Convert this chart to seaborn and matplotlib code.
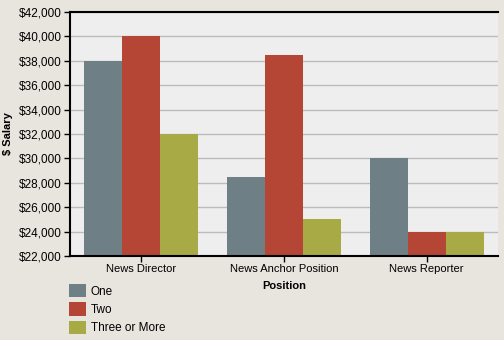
import matplotlib
matplotlib.use("Agg")
import matplotlib.pyplot as plt
import seaborn as sns
import pandas as pd

positions = ["News Director", "News Anchor Position", "News Reporter"]
groups = ["One", "Two", "Three or More"]
one = [38000, 28500, 30000]
two = [40000, 38500, 24000]
three = [32000, 25000, 24000]
yticks = list(range(22000, 42001, 2000))

rows = []
for i, p in enumerate(positions):
    for g, vals in zip(groups, [one, two, three]):
        rows.append({"Position": p, "Group": g, "Salary": vals[i]})
df = pd.DataFrame(rows)

sns.set_style("white")
plt.rcParams['font.family'] = ['Liberation Sans', 'DejaVu Sans']
plt.rcParams['text.color'] = 'black'
plt.rcParams['axes.labelcolor'] = 'black'
plt.rcParams['xtick.color'] = 'black'
plt.rcParams['ytick.color'] = 'black'

fig = plt.figure(figsize=(5.04, 3.40), dpi=100)
fig.patch.set_facecolor("#E8E4DE")
ax = fig.add_axes([70/504, 84/340, 428/504, 244/340])
ax.set_facecolor("#EEEEEE")

palette = ["#6E7F86", "#B54535", "#A8AA45"]
sns.barplot(data=df, x="Position", y="Salary", hue="Group", palette=palette,
            ax=ax, width=0.8, saturation=1, legend=True, edgecolor="none")

ax.set_ylim(22000, 42000)
ax.set_yticks(yticks)
ax.set_yticklabels([f"${v:,}" for v in yticks], fontsize=8.5)
ax.tick_params(axis="x", labelsize=8, length=4, width=1, direction="out", pad=2, bottom=True)
ax.tick_params(axis="y", length=4, width=1, direction="out", pad=2, left=True)
ax.yaxis.grid(True, color="#BBBBBB", linewidth=1)
ax.set_axisbelow(True)
for s in ["left", "bottom", "top"]:
    ax.spines[s].set_color("black")
    ax.spines[s].set_linewidth(1.5)
ax.spines["right"].set_visible(False)
ax.set_xlabel("Position", fontsize=8, fontweight="bold", labelpad=5)
ax.set_ylabel("$ Salary", fontsize=8, fontweight="bold")
ax.yaxis.set_label_coords(-0.133, 0.5)

handles, labels = ax.get_legend_handles_labels()
ax.get_legend().remove()
fig.legend(handles, labels, loc="upper left", bbox_to_anchor=(69/504, 1 - 284/340),
           frameon=False, fontsize=8.5, handlelength=1.45, handleheight=1.35,
           handletextpad=0.4, labelspacing=0.4, borderaxespad=0, borderpad=0)

fig.savefig("out.png", dpi=100, facecolor=fig.get_facecolor())
